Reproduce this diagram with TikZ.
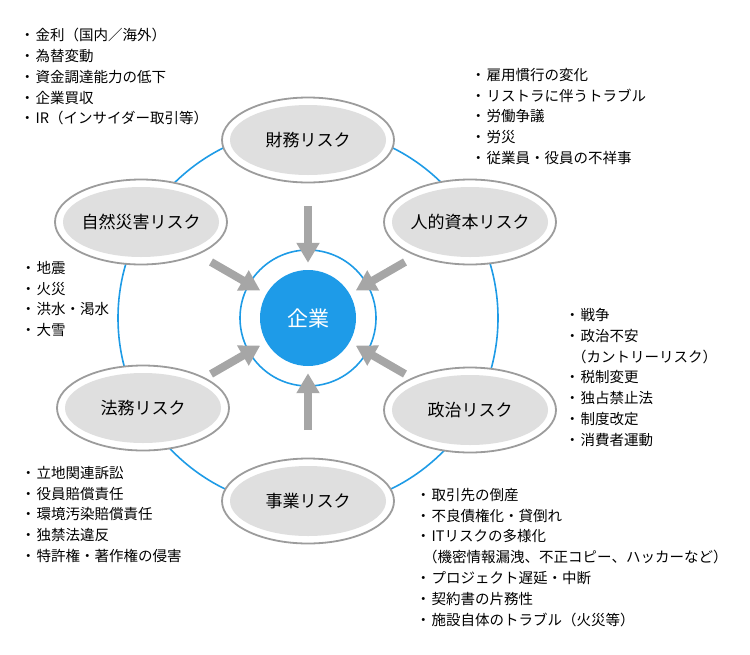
\documentclass[tikz,border=0pt]{standalone}
\usepackage{fontspec}
\setmainfont{Noto Sans CJK JP}
\usetikzlibrary{shapes.geometric,arrows.meta,calc}
\definecolor{ringblue}{HTML}{1E9BE6}
\definecolor{corefill}{HTML}{1E9BE8}
\definecolor{ellline}{HTML}{9C9C9C}
\definecolor{ellfill}{HTML}{DFDFDF}
\definecolor{arrgray}{HTML}{A6A6A6}
\newcommand{\bigrad}{190}
\newcommand{\ringrad}{68}
\newcommand{\arrfrom}{112}
\newcommand{\bul}{・\kern1pt}

\begin{document}
\begin{tikzpicture}[x=1pt, y=-1pt,
    risk/.style={ellipse, draw=ellline, line width=1.8pt, fill=white, minimum width=172pt, minimum height=85pt, inner sep=0pt,
        font=\fontsize{17}{17}\selectfont,
        path picture={\fill[ellfill] (path picture bounding box.center) ellipse (78pt and 35pt);}},
    core/.style={circle, fill=corefill, minimum size=96pt, inner sep=0pt, text=white, font=\fontsize{21}{21}\selectfont},
    notes/.style={anchor=north west, align=left, inner sep=0pt, font=\fontsize{14.5}{20.8}\selectfont},
    riskarrow/.style={draw=arrgray, line width=8pt, -{Triangle[width=22pt, length=20pt]}, shorten >=7pt}]
    \useasboundingbox (0, 0) rectangle (750, 654);
    \coordinate (O) at (308, 318);

    % rings
    \draw[ringblue, line width=1.6pt] (O) circle (\bigrad pt);
    \draw[ringblue, line width=1.6pt] (O) circle (\ringrad pt);
    \node[core] (core) at (O) {企業};

    % risks
    \node[risk] (fin) at (308, 140) {財務リスク};
    \node[risk] (hum) at (470, 222) {人的資本リスク};
    \node[risk] (pol) at (470, 410) {政治リスク};
    \node[risk] (biz) at (308, 501) {事業リスク};
    \node[risk] (law) at (143, 408) {法務リスク};
    \node[risk] (nat) at (141, 222) {自然災害リスク};

    % arrows
    \foreach \a/\n in {90/1, 30/2, -30/3, -90/4, 210/5, 150/6} {
        \coordinate (s\n) at ($(O)+(\a:\arrfrom pt)$);
        \draw[riskarrow] (s\n) -- (core);
    }

    % lists
    \node[notes] (finnotes) at (20, 28) {\bul 金利（国内／海外）\\ \bul 為替変動\\ \bul 資金調達能力の低下\\ \bul 企業買収\\ \bul IR（インサイダー取引等）};
    \node[notes] (humnotes) at (471, 68) {\bul 雇用慣行の変化\\ \bul リストラに伴うトラブル\\ \bul 労働争議\\ \bul 労災\\ \bul 従業員・役員の不祥事};
    \node[notes] (natnotes) at (21, 261) {\bul 地震\\ \bul 火災\\ \bul 洪水・渇水\\ \bul 大雪};
    \node[notes] (polnotes) at (565, 308) {\bul 戦争\\ \bul 政治不安\\ \hspace{7pt}（カントリーリスク）\\ \bul 税制変更\\ \bul 独占禁止法\\ \bul 制度改定\\ \bul 消費者運動};
    \node[notes] (lawnotes) at (21, 466) {\bul 立地関連訴訟\\ \bul 役員賠償責任\\ \bul 環境汚染賠償責任\\ \bul 独禁法違反\\ \bul 特許権・著作権の侵害};
    \node[notes] (biznotes) at (416, 488) {\bul 取引先の倒産\\ \bul 不良債権化・貸倒れ\\ \bul ITリスクの多様化\\ \hspace{7pt}（機密情報漏洩、不正コピー、ハッカーなど）\\ \bul プロジェクト遅延・中断\\ \bul 契約書の片務性\\ \bul 施設自体のトラブル（火災等）};
\end{tikzpicture}
\end{document}
